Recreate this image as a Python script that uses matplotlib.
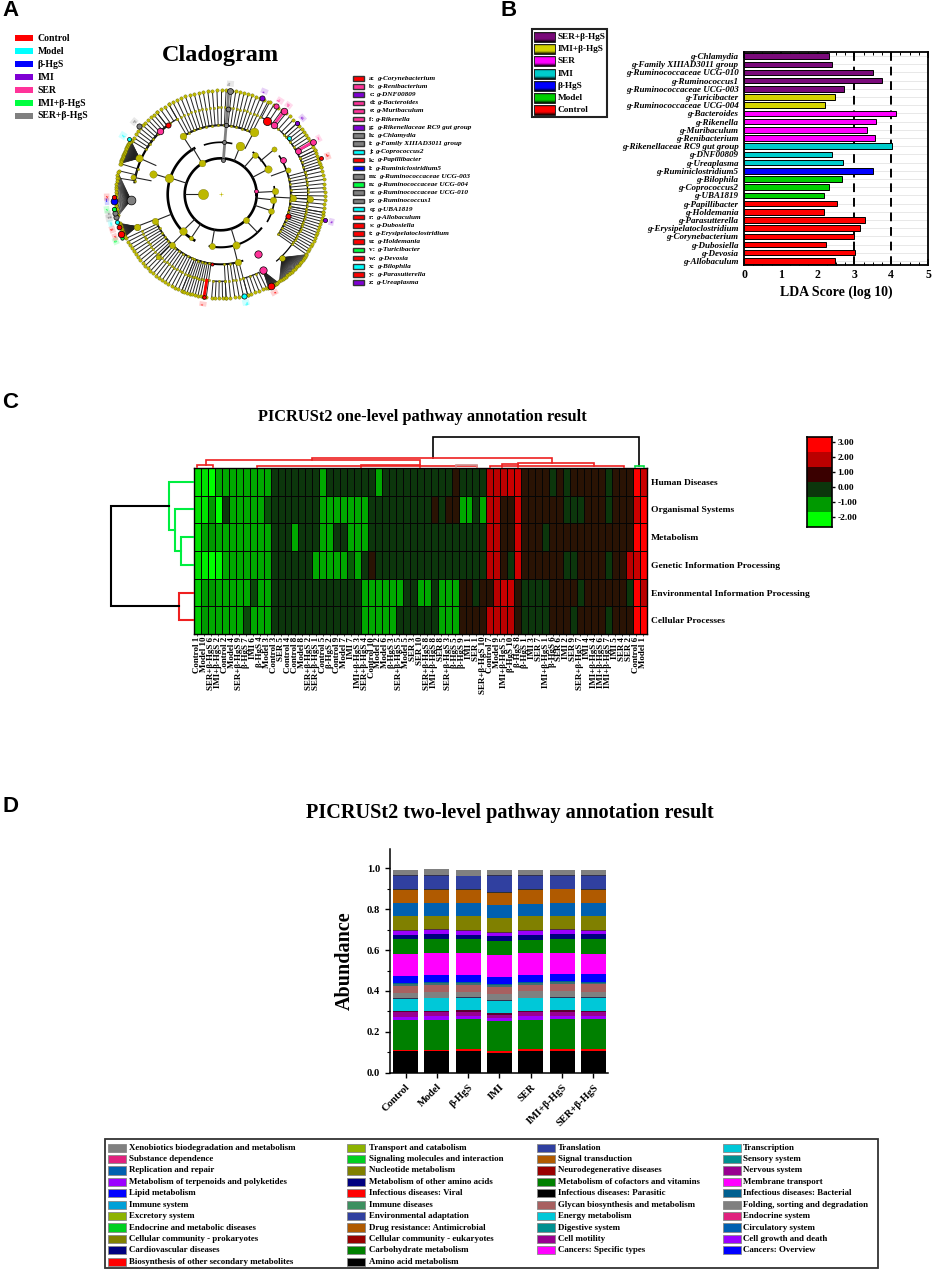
"""Four-panel microbiome figure: cladogram, LDA bars, pathway heatmap, stacked abundance."""
import matplotlib
matplotlib.use("Agg")
import matplotlib.pyplot as plt
from matplotlib.colors import LinearSegmentedColormap, to_rgb
from matplotlib.patches import Rectangle
import numpy as np

W, H = 934, 1271
SERIF = ["Liberation Serif", "DejaVu Serif"]
plt.rcParams["font.family"] = SERIF
plt.rcParams["font.weight"] = "bold"
plt.rcParams["axes.labelweight"] = "bold"

GROUP_NAMES = ["Control", "Model", "β-HgS", "IMI", "SER", "IMI+β-HgS", "SER+β-HgS"]
GROUP_COLORS_A = ["#ff0000", "#00ffff", "#0000ff", "#7f00d4", "#ff3399", "#00ff40", "#808080"]

# ---- panel A ----
CLAD_NAMES = ["Corynebacterium", "Renibacterium", "DNF00809", "Bacteroides", "Muribaculum",
              "Rikenella", "Rikenellaceae RC9 gut group", "Chlamydia", "Family XIIIAD3011 group",
              "Coprococcus2", "Papillibacter", "Ruminiclostridium5", "Ruminococcaceae UCG-003",
              "Ruminococcaceae UCG-004", "Ruminococcaceae UCG-010", "Ruminococcus1", "UBA1819",
              "Allobaculum", "Dubosiella", "Erysipelatoclostridium", "Holdemania", "Turicibacter",
              "Devosia", "Bilophila", "Parasutterella", "Ureaplasma"]
CLAD_GROUP = [0, 4, 3, 4, 4, 4, 3, 6, 6, 1, 0, 2, 6, 5, 6, 6, 1, 0, 0, 0, 0, 5, 0, 1, 0, 3]

YELLOW = "#bdb800"
CX, CY = 220.7, 194.3
# (first angle, last angle, leaves, radius of parent arc)
CLADE_ARCS = [(63, 84, 10, 69), (87, 120, 14, 69), (120, 128, 4, 87), (128, 149, 11, 87),
              (163, 171, 3, 87), (205, 248, 22, 70), (248, 262, 10, 70), (265, 273, 5, 87),
              (273, 285, 6, 70), (285, 296, 6, 87), (325, 350, 16, 70), (350, 375, 12, 70),
              (375, 385, 7, 87), (385, 403, 10, 87), (403, 422, 8, 87)]
# (first angle, last angle, leaves, parent angle, parent radius)
CLADE_FANS = [(149, 163, 45, 156, 89), (168, 192, 32, 183.6, 90), (196, 204, 30, 201, 90),
              (297, 303, 22, 299, 88), (304, 325, 40, 314, 88)]
# (radius, first angle, last angle, line width)
RING_ARCS = [(36, 0, 360, 1.9), (53, 120, 240, 1.9), (87, 128, 172, 1.6), (69, 63, 123, 1.3),
             (52, 78, 108, 1.2), (53, 25, 52, 1.3), (54, -30, 8, 1.2), (70, -30, 33, 1.2),
             (53, -102, -40, 1.5), (70, -108, -72, 1.4), (70, 205, 262, 1.2), (87, -50, 44, 0.9)]
# (angle, inner radius, outer radius, node size)
INNER_NODES = [(180, 36, 18, 55), (162, 36, 54, 40), (163, 54, 71, 28), (156, 71, 89, 28), (169, 71, 89, 14),
               (224, 36, 53, 30), (202, 53, 71, 22), (201, 71, 90, 22), (121, 53, 36, 24),
               (123, 52, 70, 24), (68, 36, 52, 40), (62, 52, 70, 40), (28, 36, 54, 28), (49, 36, 52, 18),
               (3, 36, 54, 22), (-6, 36, 53, 22), (-3, 54, 72, 22), (-3, 72, 89, 22), (-18, 36, 53, 18),
               (-73, 36, 53, 28), (-46, 53, 36, 20), (-76, 53, 70, 22), (-100, 36, 52, 20),
               (226, 53, 70, 20), (236, 36, 53, 10), (225, 70, 88, 12), (20, 54, 72, 14), (40, 52, 70, 14)]
# (letter index or -1, angle, radius, group colour, size)
HIGHLIGHTS = [(7, 85, 104, 6, 18), (-1, 85, 86, 6, 12), (-1, 86, 69, 6, 10), (-1, 86, 52, 6, 8), (-1, 86, 34, 6, 8),
              (2, 67, 105, 3, 14), (1, 57.6, 104, 4, 14), (3, 52.7, 105, 4, 22), (-1, 52.4, 87, 4, 22),
              (-1, 57.5, 87, 0, 34), (6, 43, 105, 3, 10), (-1, 39.5, 88, 1, 8), (5, 29.7, 106, 4, 18),
              (-1, 29.6, 88.5, 4, 18), (10, 19.7, 106.6, 0, 8), (-1, 28.7, 70.7, 4, 18), (-1, 6, 35.5, 4, 8),
              (-1, -17.4, 71, 0, 14), (25, -14, 107, 3, 9), (-1, -58, 70, 4, 28), (-1, -61, 87, 4, 28),
              (17, -61.3, 105, 0, 24), (16, -76.9, 104, 1, 14), (-1, 263, 70, 0, 5), (19, 260.8, 104, 0, 7),
              (13, 204, 108, 5, 6), (18, 202, 107, 0, 22), (20, 198, 107, 0, 12), (9, 194.8, 107, 1, 8),
              (12, 192, 107, 6, 14), (14, 190, 107, 6, 14), (21, 187.7, 108, 5, 10), (11, 183.6, 107, 2, 24),
              (24, 181.4, 107, 0, 10), (-1, 183.6, 90, 6, 40), (22, 149, 107, 1, 8), (15, 140, 106, 6, 14),
              (-1, 127.5, 87, 0, 14), (-1, 134, 88, 4, 22)]
# thick coloured branches (first radius, second radius, angle, group colour)
THICK_BRANCHES = [(34, 104, 85.5, 6), (87, 105, 52.6, 4), (88.5, 106, 29.6, 4), (87, 104, 260.8, 0)]

# ---- panel B ----
LDA_TAXA = ["Chlamydia", "Family XIIIAD3011 group", "Ruminococcaceae UCG-010", "Ruminococcus1",
            "Ruminococcaceae UCG-003", "Turicibacter", "Ruminococcaceae UCG-004", "Bacteroides",
            "Rikenella", "Muribaculum", "Renibacterium", "Rikenellaceae RC9 gut group", "DNF00809",
            "Ureaplasma", "Ruminiclostridium5", "Bilophila", "Coprococcus2", "UBA1819", "Papillibacter",
            "Holdemania", "Parasutterella", "Erysipelatoclostridium", "Corynebacterium", "Dubosiella",
            "Devosia", "Allobaculum"]
LDA_SCORES = [2.3, 2.38, 3.5, 3.76, 2.72, 2.47, 2.2, 4.14, 3.6, 3.35, 3.57, 4.03, 2.4, 2.68, 3.5,
              2.65, 2.3, 2.17, 2.53, 2.18, 3.3, 3.16, 3.0, 2.22, 3.02, 2.48]
LDA_GROUP = [6] * 5 + [5] * 2 + [4] * 4 + [3] * 3 + [2] + [1] * 3 + [0] * 8
GROUP_COLORS_B = ["#ff0000", "#00d000", "#0000ff", "#00cccc", "#ff00ff", "#d4d400", "#7a0a7a"]

# ---- panel C ----
PATHWAYS = ["Human Diseases", "Organismal Systems", "Metabolism", "Genetic Information Processing",
            "Environmental Information Processing", "Cellular Processes"]
SAMPLES = ["Control 1", "Model 10", "SER+β-HgS 6", "IMI+β-HgS 2", "Control 2", "Model 4", "SER+β-HgS 9",
           "β-HgS 7", "IMI 6", "β-HgS 4", "Model 3", "Control 3", "SER 5", "Control 4", "Control 8", "Model 8",
           "SER+β-HgS 2", "SER+β-HgS 1", "Control 5", "β-HgS 2", "Control 9", "Model 7", "IMI 7", "IMI+β-HgS 3",
           "SER+β-HgS 4", "Control 10", "Model 2", "Model 6", "β-HgS 3", "SER+β-HgS 5", "Model 5", "SER 3",
           "SER 10", "SER+β-HgS 8", "IMI+β-HgS 8", "SER 8", "SER+β-HgS 3", "β-HgS 5", "β-HgS 9", "IMI 1",
           "SER 1", "SER+β-HgS 10", "Control 7", "Model 9", "IMI+β-HgS 5", "β-HgS 10", "β-HgS 8", "β-HgS 1",
           "IMI 3", "SER 7", "IMI+β-HgS 1", "β-HgS 6", "SER 6", "IMI 2", "SER 9", "SER+β-HgS 7", "IMI 4",
           "IMI+β-HgS 4", "IMI+β-HgS 6", "IMI+β-HgS 7", "IMI 5", "SER 4", "SER 2", "Control 6", "Model 1"]
D, R, G = 0.0, 0.65, -1.15  # dark green, dark red and mid green cells
HUMAN = [-1.7, -1.7, -2, G, G, G, G, G, G, G, G, D, D, D, D, D, D, D, G, D, D, D, D, D, D, D, G, D, D, D, D, D, D,
         D, D, D, D, R, D, D, D, D, 2, 2, 2, 2.2, 2.3, R, R, R, R, D, R, D, R, R, R, R, R, D, R, R, R, 3, 2.2]
ORGANISMAL = [-1.7, -1.7, -1, -2, D, G, G, G, G, G, -0.3, D, D, D, D, D, D, D, G, G, G, G, G, G, G, D, D, D, D, D, D, D, D,
              D, R, D, R, R, G, G, D, G, 2, 2, R, R, 2.3, R, R, R, R, R, R, D, D, D, R, R, R, D, R, R, R, 2.2, 3]
METABOLISM = [-1.7, -1.1, -1, G, G, G, G, G, G, G, G, D, D, D, G, D, D, D, G, G, D, D, G, G, G, D, D, D, D, D, D, D, D,
              D, D, D, D, D, D, D, D, D, 2, 2, R, R, 2.3, R, R, R, D, R, R, R, R, R, R, R, R, R, R, R, R, 3, 3]
GENETIC = [-1.7, -1.8, -2, -1.9, G, G, G, G, G, G, G, D, D, D, D, D, D, G, G, G, G, G, -0.4, G, D, R, D, D, D, D, D, D, D,
           D, D, D, D, D, D, D, D, D, 2, 2, R, D, 2.3, R, R, R, R, R, R, D, D, R, R, R, R, D, R, R, 2, 2.2, 3]
ENVIRONMENTAL = [-1.5, -1, -1, G, G, G, G, G, -0.2, G, G, D, D, D, D, D, D, D, D, D, D, D, D, D, G, G, G, G, G, G, D, D, G,
                 G, D, G, G, G, R, R, D, R, R, 2, 2.2, 2.2, R, D, D, D, D, R, R, R, R, D, R, R, R, R, R, R, D, 3, 2]
CELLULAR = [-1.5, -1, G, G, G, G, G, -0.2, G, G, G, D, D, D, D, D, D, D, D, D, D, D, D, D, G, G, G, G, G, D, D, D, D,
            D, D, G, G, G, R, R, R, R, 2, 2, 2, 2, R, D, D, D, D, R, R, R, D, R, R, R, R, D, R, R, R, 3, 3]
COLORBAR_LEVELS = [3, 2, 1, 0, -1, -2]
COLORBAR_COLORS = ["#ff0000", "#bb0000", "#3a0000", "#0c360c", "#009900", "#00ff00"]

# left tree: row a, height a, row b, height b, link height, colour
ROW_LINKS = [(2.5, 0, 3.5, 0, 13, "#00ee40"), (1.5, 0, 3, 13, 19.5, "#00ee40"), (0.5, 0, 2.25, 19.5, 25.5, "#00ee40"),
             (4.5, 0, 5.5, 0, 15, "#ee2020"), (1.375, 25.5, 5, 15, 83, "#000000")]
# top tree: column a, base a, column b, base b, link height, colour
COL_LINKS = [(34.3, 10, 63.9, 1.5, 30.5, "#000000"), (17, 8, 51.4, 5, 10, "#ee2020"), (1.7, 3, 32.5, 3, 8, "#ee2020"),
             (0.5, 1, 2.8, 1, 3, "#ee2020"), (9, 0.5, 40.6, 0.5, 2, "#ee2020"), (24, 1, 32.5, 1, 3, "#ee2020"),
             (37.6, 1, 40.7, 1, 2.5, "#d09090"), (46.6, 2, 57.5, 2, 5, "#ee2020"), (44.2, 1, 46.6, 1, 3.5, "#ee2020"),
             (42.5, 0.5, 61.8, 0.5, 1.5, "#ee2020"), (63.3, 0.5, 64.6, 0.5, 1.5, "#00dd40")]

# ---- panel D ----
LAYER_COLORS = ["#000000", "#ff0000", "#008000", "#9b00ff", "#990090", "#5a0030", "#00c8d8", "#303050", "#808080",
                "#a86060", "#3d7070", "#006090", "#0000ff", "#ff00ff", "#008000", "#000080", "#9b00ff", "#50303f",
                "#808000", "#0060b0", "#b05a00", "#303030", "#3040a0", "#303050", "#808080"]
AMINO = [.105, .105, .106, .098, .106, .108, .108]
BIOSYNTH = [.008, .008, .009, .008, .008, .007, .008]
CARBOHYDRATE = [.145, .146, .146, .147, .146, .148, .146]
CELL_GROWTH = [.017, .017, .016, .014, .016, .014, .014]
CELL_MOTILITY = [.020, .020, .022, .017, .020, .022, .020]
CELL_COMMUNITY = [.005, .006, .006, .007, .006, .006, .006]
ENERGY = [.063, .062, .062, .060, .062, .061, .063]
ENV_ADAPT = [.004, .004, .004, .004, .004, .004, .004]
FOLDING = [.025, .026, .026, .030, .030, .030, .028]
GLYCAN = [.033, .033, .033, .033, .033, .035, .036]
IMMUNE = [.010, .010, .008, .010, .008, .008, .008]
INFECTIOUS = [.005, .005, .005, .005, .005, .005, .005]
LIPID = [.033, .034, .034, .034, .035, .035, .035]
MEMBRANE = [.110, .109, .108, .110, .105, .105, .102]
COFACTORS = [.070, .068, .068, .066, .068, .068, .070]
OTHER_AMINO = [.023, .026, .022, .026, .024, .023, .024]
TERPENOIDS = [.018, .018, .019, .014, .017, .018, .017]
NEURO = [.004, .004, .004, .004, .004, .004, .004]
NUCLEOTIDE = [.068, .067, .068, .068, .068, .068, .068]
REPLICATION = [.063, .063, .063, .066, .063, .062, .063]
SIGNAL = [.066, .065, .067, .060, .067, .067, .066]
SIGNALING = [.002, .002, .002, .002, .002, .002, .002]
TRANSLATION = [.066, .067, .063, .080, .065, .063, .065]
TRANSPORT = [.004, .004, .004, .004, .004, .004, .004]
XENOBIOTICS = [.026, .026, .026, .027, .026, .026, .026]
LAYERS = [AMINO, BIOSYNTH, CARBOHYDRATE, CELL_GROWTH, CELL_MOTILITY, CELL_COMMUNITY, ENERGY, ENV_ADAPT, FOLDING,
          GLYCAN, IMMUNE, INFECTIOUS, LIPID, MEMBRANE, COFACTORS, OTHER_AMINO, TERPENOIDS, NEURO, NUCLEOTIDE,
          REPLICATION, SIGNAL, SIGNALING, TRANSLATION, TRANSPORT, XENOBIOTICS]

LEGEND_COLUMNS = [
    [("Xenobiotics biodegradation and metabolism", "#808080"), ("Substance dependence", "#e0217e"),
     ("Replication and repair", "#0060b0"), ("Metabolism of terpenoids and polyketides", "#9b00ff"),
     ("Lipid metabolism", "#0000ff"), ("Immune system", "#00a0d8"), ("Excretory system", "#8db300"),
     ("Endocrine and metabolic diseases", "#00d020"), ("Cellular community - prokaryotes", "#808000"),
     ("Cardiovascular diseases", "#000080"), ("Biosynthesis of other secondary metabolites", "#ff0000")],
    [("Transport and catabolism", "#8db300"), ("Signaling molecules and interaction", "#00d020"),
     ("Nucleotide metabolism", "#808000"), ("Metabolism of other amino acids", "#000080"),
     ("Infectious diseases: Viral", "#ff0000"), ("Immune diseases", "#3d9060"),
     ("Environmental adaptation", "#3040a0"), ("Drug resistance: Antimicrobial", "#b05a00"),
     ("Cellular community - eukaryotes", "#990000"), ("Carbohydrate metabolism", "#008000"),
     ("Amino acid metabolism", "#000000")],
    [("Translation", "#3040a0"), ("Signal transduction", "#b05a00"), ("Neurodegenerative diseases", "#990000"),
     ("Metabolism of cofactors and vitamins", "#008000"), ("Infectious diseases: Parasitic", "#000000"),
     ("Glycan biosynthesis and metabolism", "#a86060"), ("Energy metabolism", "#00c8d8"),
     ("Digestive system", "#009090"), ("Cell motility", "#990090"), ("Cancers: Specific types", "#ff00ff")],
    [("Transcription", "#00c8d8"), ("Sensory system", "#009090"), ("Nervous system", "#990090"),
     ("Membrane transport", "#ff00ff"), ("Infectious diseases: Bacterial", "#006090"),
     ("Folding, sorting and degradation", "#808080"), ("Endocrine system", "#e0217e"),
     ("Circulatory system", "#0060b0"), ("Cell growth and death", "#9b00ff"), ("Cancers: Overview", "#0000ff")],
]


def px_axes(left, top, right, bottom):
    return fig.add_axes([left / W, 1 - bottom / H, (right - left) / W, (bottom - top) / H])


def polar_xy(r, angle):
    a = np.deg2rad(angle)
    return CX + r * np.cos(a), CY - r * np.sin(a)


fig = plt.figure(figsize=(W / 100, H / 100), dpi=100)
canvas = fig.add_axes([0, 0, 1, 1])
canvas.set_xlim(0, W)
canvas.set_ylim(H, 0)
canvas.axis("off")

for letter, x, y in [("A", 2, 11), ("B", 501, 11), ("C", 2, 403), ("D", 2, 806)]:
    canvas.text(x, y, letter, family="Liberation Sans", fontsize=16, weight="bold", va="center")

# ---------------- A: cladogram ----------------
canvas.text(220, 56, "Cladogram", fontsize=17.5, ha="center", va="center")
for i, (name, color) in enumerate(zip(GROUP_NAMES, GROUP_COLORS_A)):
    y = 38.3 + i * 12.95
    canvas.add_patch(Rectangle((15, y - 3), 18, 6, fc=color, ec="none"))
    canvas.text(37.7, y, name, fontsize=7.0, va="center")

for i, (name, g) in enumerate(zip(CLAD_NAMES, CLAD_GROUP)):
    y = 78.3 + i * 8.17
    canvas.add_patch(Rectangle((352.7, y - 2.3), 11.3, 4.6, fc=GROUP_COLORS_A[g], ec="#333333", lw=1))
    prefix = canvas.text(369.3, y, f"{chr(97 + i)}:", fontsize=5.2, va="center")
    canvas.annotate(f"g-{name}", xy=(1, 0), xycoords=prefix, xytext=(1, 0), textcoords="offset points",
                    fontsize=5.2, style="italic", va="bottom")

for r, a0, a1, lw in RING_ARCS:
    angles = np.arange(a0, a1 + 1.0)
    canvas.plot(*polar_xy(r, angles), color="black", lw=lw, zorder=2)

for a0, a1, n, r_parent in CLADE_ARCS:
    angles = np.linspace(a0, a1, n)
    for a in angles:
        canvas.plot(*polar_xy(np.array([r_parent, 104]), a), color="#222222", lw=0.7, zorder=1)
    canvas.plot(*polar_xy(r_parent, np.linspace(a0, a1, 30)), color="#222222", lw=0.9, zorder=2)
    canvas.scatter(*polar_xy(104, angles), s=6, c=YELLOW, edgecolors="#555500", lw=0.2, zorder=3)
    canvas.scatter(*polar_xy(r_parent, angles[::2]), s=3, c=YELLOW, edgecolors="#555500", lw=0.2, zorder=3)
    if r_parent < 87:
        canvas.scatter(*polar_xy(87, angles), s=3, c=YELLOW, edgecolors="#555500", lw=0.2, zorder=3)

for a0, a1, n, a_parent, r_parent in CLADE_FANS:
    angles = np.linspace(a0, a1, n)
    px, py = polar_xy(r_parent, a_parent)
    for a in angles:
        lx, ly = polar_xy(105, a)
        canvas.plot([px, lx], [py, ly], color="#222222", lw=0.5, zorder=1)
    canvas.scatter(*polar_xy(105, angles[::2]), s=6, c=YELLOW, edgecolors="#555500", lw=0.2, zorder=3)
    canvas.scatter(px, py, s=18, c=YELLOW, edgecolors="#333300", lw=0.3, zorder=3)

for angle, r0, r1, size in INNER_NODES:
    canvas.plot(*polar_xy(np.array([r0, r1]), angle), color="#222222", lw=0.8, zorder=2)
    canvas.scatter(*polar_xy(r1, angle), s=size, c=YELLOW, edgecolors="#555500", lw=0.2, zorder=4)

for r0, r1, angle, g in THICK_BRANCHES:
    canvas.plot(*polar_xy(np.array([r0, r1]), angle), color=GROUP_COLORS_A[g], lw=2, zorder=3)

for idx, angle, r, g, size in HIGHLIGHTS:
    color = GROUP_COLORS_A[g]
    canvas.scatter(*polar_xy(r, angle), s=size, c=color, edgecolors="black", lw=0.5, zorder=5)
    if idx >= 0:
        tx, ty = polar_xy(r + 7, angle)
        rot = angle if np.cos(np.deg2rad(angle)) > 0 else angle + 180
        canvas.text(tx, ty, chr(97 + idx), fontsize=3.6, color=color, ha="center", va="center", rotation=rot,
                    bbox=dict(fc=color, ec="none", alpha=0.18, pad=1.1), zorder=4)
canvas.scatter(CX, CY, s=6, marker="+", c=YELLOW, lw=0.4, zorder=3)

# ---------------- B: LDA bars ----------------
for i, g in enumerate(reversed(range(7))):
    y = 37 + i * 12.2
    grad = np.linspace(0, 1, 16)
    shade = np.clip(1.15 - np.abs(2 * grad - 0.9) ** 2.5, 0.15, 1)[:, None, None] * np.array(to_rgb(GROUP_COLORS_B[g]))
    canvas.imshow(shade, extent=(534, 555, y + 5, y - 5), aspect="auto", interpolation="bilinear", zorder=3)
    canvas.add_patch(Rectangle((534, y - 5), 21, 10, fc="none", ec="#222222", lw=0.7, zorder=4))
    canvas.text(558, y, GROUP_NAMES[g], fontsize=6.7, va="center")
canvas.add_patch(Rectangle((532, 29), 75, 88, fc="none", ec="#222222", lw=1.5, zorder=4))
canvas.set_xlim(0, W)
canvas.set_ylim(H, 0)

ax_b = px_axes(744, 52, 928, 265)
ypos = np.arange(len(LDA_TAXA))
ax_b.barh(ypos, LDA_SCORES, height=0.68, color=[GROUP_COLORS_B[g] for g in LDA_GROUP], edgecolor="black", lw=0.7, zorder=3)
for v in (3, 4):
    ax_b.axvline(v, color="black", lw=1.4, dashes=(4.5, 3), zorder=2)
ax_b.set_xlim(0, 5)
ax_b.set_ylim(len(LDA_TAXA) - 0.5, -0.5)
ax_b.set_yticks(ypos)
ax_b.set_yticklabels([f"g-{t}" for t in LDA_TAXA], fontsize=6.5, style="italic")
ax_b.grid(True, axis="y", color="#e4e4e4", lw=0.6, zorder=0)
ax_b.set_axisbelow(True)
ax_b.tick_params(axis="y", length=0, pad=4)
ax_b.set_xticks(range(6))
ax_b.set_xticks(np.arange(0, 5.01, 0.25), minor=True)
ax_b.tick_params(axis="x", which="major", direction="in", top=True, length=4, width=1.1, labelsize=8.5, pad=3)
ax_b.tick_params(axis="x", which="minor", direction="in", top=True, length=2, width=0.7)
ax_b.set_xlabel("LDA Score (log 10)", fontsize=10, labelpad=3)
for spine in ax_b.spines.values():
    spine.set_linewidth(1.3)

# ---------------- C: heatmap ----------------
canvas.text(422, 417, "PICRUSt2 one-level pathway annotation result", fontsize=11.8, ha="center", va="center")
matrix = np.array([HUMAN, ORGANISMAL, METABOLISM, GENETIC, ENVIRONMENTAL, CELLULAR])
cmap = LinearSegmentedColormap.from_list(
    "heat", [(p, c) for p, c in zip(np.array(COLORBAR_LEVELS[::-1]) / 5 + 0.4, COLORBAR_COLORS[::-1])])
ax_c = px_axes(194, 468, 646.5, 634)
ax_c.pcolormesh(matrix, cmap=cmap, vmin=-2, vmax=3, edgecolors="#050505", linewidth=0.7)
ax_c.set_ylim(6, 0)
ax_c.set_xticks(np.arange(len(SAMPLES)) + 0.5)
ax_c.set_xticklabels(SAMPLES, rotation=90, fontsize=6.4)
ax_c.set_yticks(np.arange(6) + 0.5)
ax_c.set_yticklabels(PATHWAYS, fontsize=6.8)
ax_c.yaxis.tick_right()
ax_c.tick_params(axis="x", length=1.5, width=0.5, pad=0.5)
ax_c.tick_params(axis="y", length=0, pad=3)
for spine in ax_c.spines.values():
    spine.set_linewidth(1)

ax_left = px_axes(105, 468, 194, 634)
ax_left.set_xlim(89, 0)
ax_left.set_ylim(6, 0)
ax_left.axis("off")
for row_a, h_a, row_b, h_b, h, color in ROW_LINKS:
    ax_left.plot([h_a, h, h, h_b], [row_a, row_a, row_b, row_b], color=color, lw=1.5, solid_joinstyle="miter")

ax_top = px_axes(194, 430, 646.5, 468)
ax_top.set_xlim(0, len(SAMPLES))
ax_top.set_ylim(0, 38)
ax_top.axis("off")
for col_a, b_a, col_b, b_b, h, color in COL_LINKS:
    ax_top.plot([col_a, col_a, col_b, col_b], [b_a, h, h, b_b], color=color, lw=1.2, solid_joinstyle="miter")

ax_bar = px_axes(807, 437, 832, 527)
edges = np.arange(3 + 1 / 3, -3, -1)
ax_bar.pcolormesh([0, 1], edges, np.array(COLORBAR_LEVELS)[:, None],
                  cmap=LinearSegmentedColormap.from_list("bar", COLORBAR_COLORS[::-1], N=6), vmin=-2.5, vmax=3.5)
ax_bar.set_ylim(edges[-1], edges[0])
ax_bar.set_xticks([])
ax_bar.set_yticks(COLORBAR_LEVELS)
ax_bar.set_yticklabels([f"{v:.2f}" for v in COLORBAR_LEVELS], fontsize=6.8)
ax_bar.yaxis.tick_right()
ax_bar.tick_params(axis="y", length=2, width=1, pad=2)
for spine in ax_bar.spines.values():
    spine.set_linewidth(1.2)

# ---------------- D: stacked bars ----------------
canvas.text(510, 813, "PICRUSt2 two-level pathway annotation result", fontsize=14.6, ha="center", va="center")
ax_d = px_axes(390, 849, 608, 1072.7)
bottom = np.zeros(len(GROUP_NAMES))
xpos = np.arange(len(GROUP_NAMES))
for layer, color in zip(LAYERS, LAYER_COLORS):
    ax_d.bar(xpos, layer, bottom=bottom, width=0.8, color=color, lw=0)
    bottom += np.array(layer)
ax_d.set_xlim(-0.5, 6.47)
ax_d.set_ylim(0, 1.095)
ax_d.set_yticks(np.arange(0, 1.01, 0.2))
ax_d.set_yticklabels([f"{v:.1f}" for v in np.arange(0, 1.01, 0.2)], fontsize=7.6)
ax_d.set_yticks(np.arange(0.1, 1.0, 0.2), minor=True)
ax_d.set_xticks(xpos)
ax_d.set_xticklabels(GROUP_NAMES, rotation=45, ha="right", rotation_mode="anchor", fontsize=7.6)
ax_d.tick_params(axis="both", which="major", length=3.5, width=1)
ax_d.tick_params(axis="y", which="minor", length=2, width=0.8)
ax_d.set_ylabel("Abundance", fontsize=14.5, labelpad=9)
ax_d.spines["top"].set_visible(False)
ax_d.spines["right"].set_visible(False)
for side in ("left", "bottom"):
    ax_d.spines[side].set_linewidth(1.1)

canvas.add_patch(Rectangle((105, 1139), 773, 129, fc="none", ec="#333333", lw=1.3))
for (x_sw, x_txt), column in zip([(107.5, 129), (347, 369), (537, 558), (723, 743)], LEGEND_COLUMNS):
    for i, (name, color) in enumerate(column):
        y = 1147.7 + i * 11.4
        canvas.add_patch(Rectangle((x_sw, y - 4.1), 18, 8.2, fc=color, ec="#888888", lw=0.6))
        canvas.text(x_txt, y, name, fontsize=6.4, va="center")

fig.savefig("out.png", dpi=100)
